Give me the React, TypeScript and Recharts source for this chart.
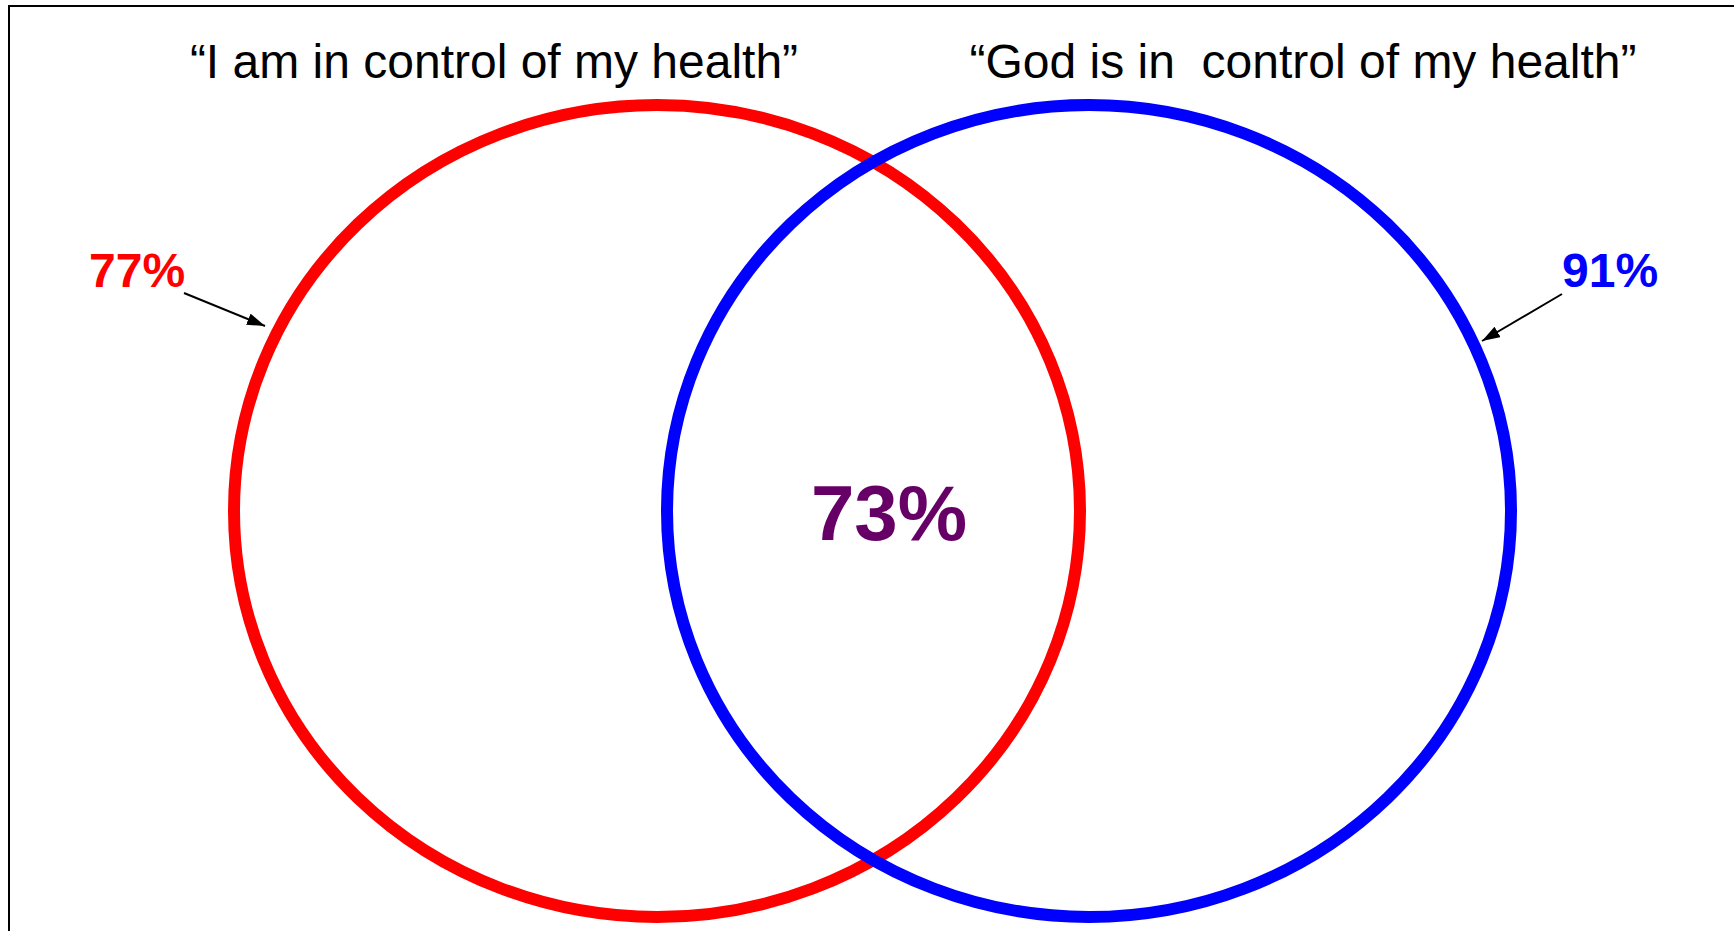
import React from 'react';
import { ScatterChart, Scatter, XAxis, YAxis, Customized } from 'recharts';

// ---- data ----
const setLabels = ['\u201CI am in control of my health\u201D', '\u201CGod is in  control of my health\u201D'];
const setPercents = [77, 91];
const overlapPercent = 73;

// ---- layout / style (pixels; the axes map 1 unit = 1 px) ----
const W = 1734;
const H = 931;
const FONT = '"Liberation Sans", Arial, Helvetica, sans-serif';
const setColors = ['#FF0000', '#0000FF'];
const ellipseGeom = [
  { cx: 657, cy: 511, rx: 423, ry: 406 },
  { cx: 1089, cy: 511, rx: 422, ry: 406 },
];
const titlePos = [
  { x: 494, y: 78 },
  { x: 1303, y: 78 },
];
const pctPos = [
  { x: 89, y: 287, anchor: 'start' },
  { x: 1562, y: 287, anchor: 'start' },
];
const arrows = [
  { x1: 184, y1: 293, x2: 265, y2: 326 },
  { x1: 1562, y1: 294, x2: 1482, y2: 341 },
];

const circleData = setLabels.map((label, i) => ({
  x: ellipseGeom[i].cx,
  y: ellipseGeom[i].cy,
  label,
  value: setPercents[i],
  idx: i,
}));

const EllipseShape = (props: any) => {
  const { cx, cy, payload } = props;
  const i = payload.idx;
  const g = ellipseGeom[i];
  return (
    <ellipse
      cx={cx}
      cy={cy}
      rx={g.rx}
      ry={g.ry}
      fill="none"
      stroke={setColors[i]}
      strokeWidth={12}
    />
  );
};

const Overlay = () => (
  <g>
    <defs>
      <marker
        id="arrowHead"
        markerWidth={18}
        markerHeight={12}
        refX={18}
        refY={6}
        orient="auto"
        markerUnits="userSpaceOnUse"
      >
        <path d="M0,0 L18,6 L0,12 z" fill="#000" />
      </marker>
    </defs>
    <path d={`M9,${H} L9,6 L${W},6`} fill="none" stroke="#000" strokeWidth={2} />
    {setLabels.map((t, i) => (
      <text
        key={'t' + i}
        x={titlePos[i].x}
        y={titlePos[i].y}
        textAnchor="middle"
        fontFamily={FONT}
        fontSize={48}
        fill="#000"
        style={{ whiteSpace: 'pre' }}
        xmlSpace="preserve"
      >
        {t}
      </text>
    ))}
    {setPercents.map((p, i) => (
      <text
        key={'p' + i}
        x={pctPos[i].x}
        y={pctPos[i].y}
        textAnchor={pctPos[i].anchor as any}
        fontFamily={FONT}
        fontSize={48}
        fontWeight="bold"
        fill={setColors[i]}
      >
        {p}%
      </text>
    ))}
    {arrows.map((a, i) => (
      <line
        key={'a' + i}
        x1={a.x1}
        y1={a.y1}
        x2={a.x2}
        y2={a.y2}
        stroke="#000"
        strokeWidth={2}
        markerEnd="url(#arrowHead)"
      />
    ))}
    <text
      x={889}
      y={540}
      textAnchor="middle"
      fontFamily={FONT}
      fontSize={78}
      fontWeight="bold"
      fill="#660066"
    >
      {overlapPercent}%
    </text>
  </g>
);

export default function App() {
  return (
    <div style={{ position: 'absolute', left: 0, top: 0, width: W, height: H, overflow: 'hidden', background: '#fff' }}>
      <ScatterChart width={W} height={H} margin={{ top: 0, right: 0, bottom: 0, left: 0 }}>
        <XAxis type="number" dataKey="x" domain={[0, W]} hide />
        <YAxis type="number" dataKey="y" domain={[0, H]} reversed hide />
        <Scatter data={circleData} shape={EllipseShape} isAnimationActive={false} />
        <Customized component={Overlay} />
      </ScatterChart>
    </div>
  );
}
